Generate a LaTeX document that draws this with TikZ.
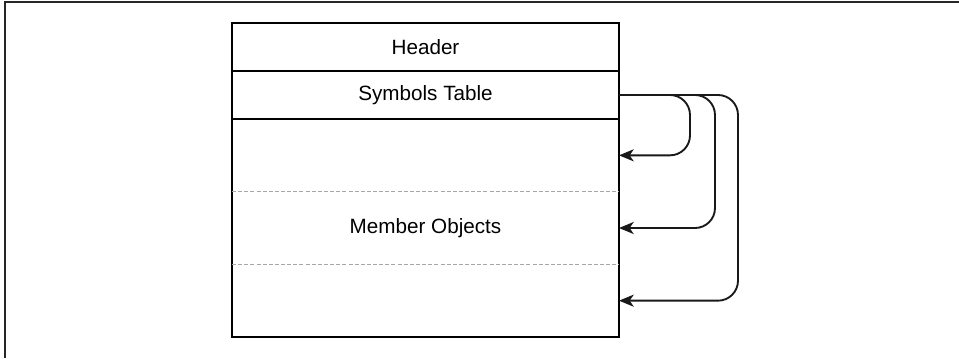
\documentclass[tikz,border=0pt]{standalone}
\usepackage{fontspec}
\setmainfont{Liberation Sans}
\usetikzlibrary{positioning,arrows.meta,calc}

\begin{document}
\begin{tikzpicture}[x=0.75pt,y=-0.75pt,node distance=0pt,
  part/.style={draw,line width=1.6pt,rectangle,outer sep=0pt,minimum width=290.25pt,font=\fontsize{15.5}{18}\selectfont},
  link/.style={-{Stealth[length=11pt,width=9pt,inset=3pt]},line width=1.4pt,rounded corners=15pt,black!90},
  slotline/.style={dashed,dash pattern=on 3pt off 1.6pt,line width=0.8pt,black!35}]
\useasboundingbox (0,0) rectangle (959,358);
\draw[line width=1pt,black!85] (5,358) -- (5,2) -- (959,2);
\node[part,minimum height=36pt] (header) at (425.5,47) {Header};
\node[part,minimum height=36pt,below=of header] (symtab) {Symbols Table};
\node[part,minimum height=163.5pt,below=of symtab] (members) {Member Objects};
\draw[slotline] ($(members.north west)!1/3!(members.south west)$) -- ($(members.north east)!1/3!(members.south east)$);
\draw[slotline] ($(members.north west)!2/3!(members.south west)$) -- ($(members.north east)!2/3!(members.south east)$);
\coordinate (slot1) at ($(members.north east)!1/6!(members.south east)$);
\coordinate (slot2) at ($(members.north east)!3/6!(members.south east)$);
\coordinate (slot3) at ($(members.north east)!5/6!(members.south east)$);
\draw[link] (symtab.east) -- ++(71,0) |- (slot1);
\draw[link] (symtab.east) -- ++(96,0) |- (slot2);
\draw[link] (symtab.east) -- ++(119,0) |- (slot3);
\end{tikzpicture}
\end{document}
